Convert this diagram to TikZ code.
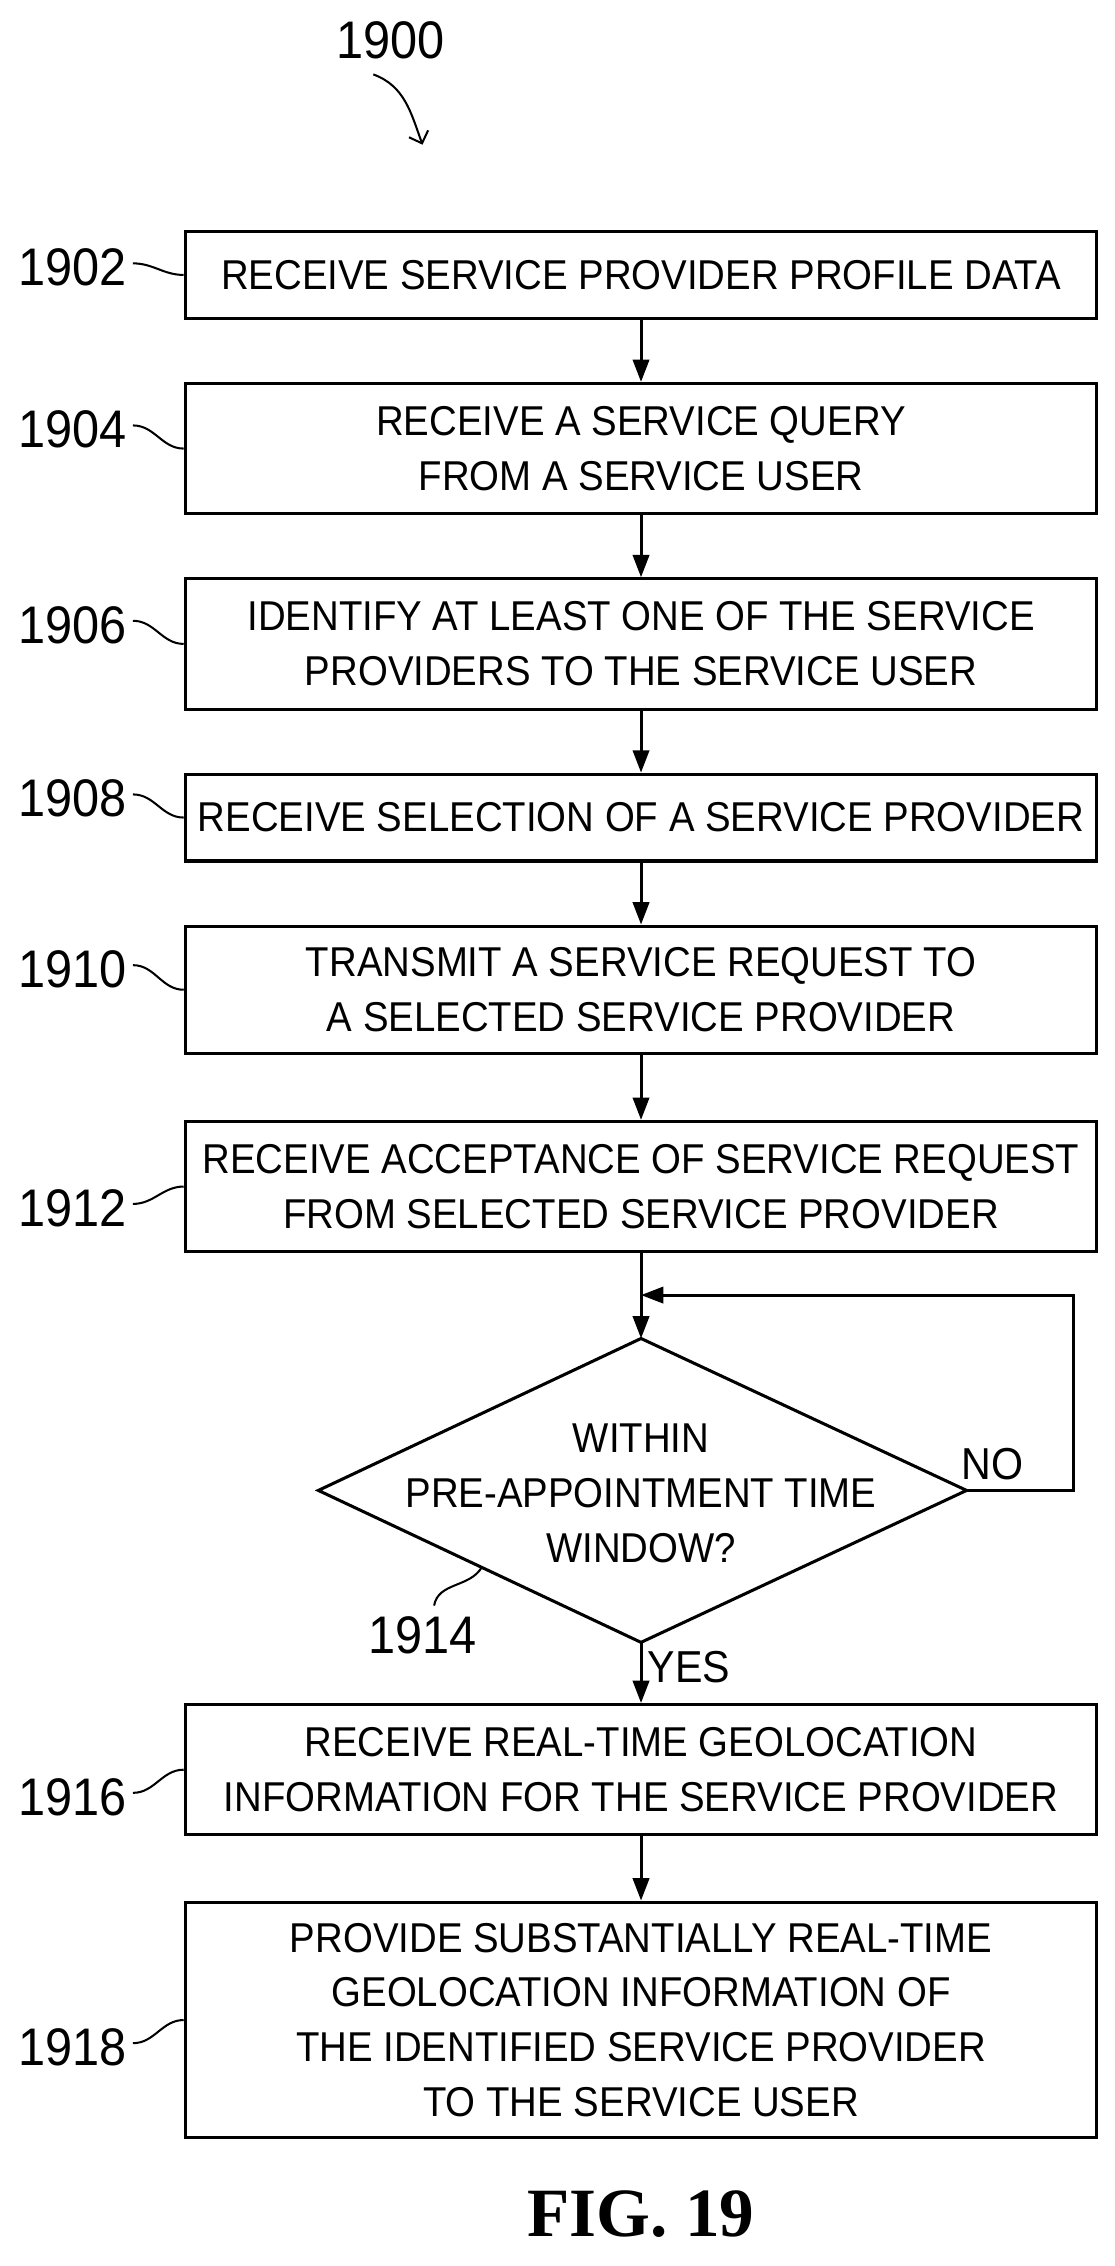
\documentclass[tikz,border=0pt]{standalone}
\usepackage{fontspec}
\setmainfont{Liberation Sans}[FakeStretch=0.92]
\newfontfamily\capfont{Liberation Serif}
\usetikzlibrary{arrows.meta,positioning}
\tikzset{
  box/.style={draw, line width=3pt, minimum width=31.5cm, align=center,
    font=\fontsize{41}{54}\selectfont},
  ref/.style={font=\fontsize{52}{56}\selectfont},
  flow/.style={-{Triangle[length=22pt,width=16pt]}, line width=3pt},
  lead/.style={line width=2pt},
}
\begin{document}
\begin{tikzpicture}[x=0.05cm, y=-0.05cm]
    \useasboundingbox (0,0) rectangle (770,1566);
    % steps
    \node(S1) at (443,190) [box, minimum height=3cm] {RECEIVE SERVICE PROVIDER PROFILE DATA};
    \node(S2) at (443,310) [box, minimum height=4.5cm] {RECEIVE A SERVICE QUERY\\FROM A SERVICE USER};
    \node(S3) at (443,445) [box, minimum height=4.5cm] {IDENTIFY AT LEAST ONE OF THE SERVICE\\PROVIDERS TO THE SERVICE USER};
    \node(S4) at (443,565) [box, minimum height=3cm] {RECEIVE SELECTION OF A SERVICE PROVIDER};
    \node(S5) at (443,684) [box, minimum height=4.4cm] {TRANSMIT A SERVICE REQUEST TO\\A SELECTED SERVICE PROVIDER};
    \node(S6) at (443,820) [box, minimum height=4.5cm] {RECEIVE ACCEPTANCE OF SERVICE REQUEST\\FROM SELECTED SERVICE PROVIDER};
    % decision
    \node(Q) at (443,1032) [align=center, font=\fontsize{41}{54}\selectfont] {WITHIN\\PRE-APPOINTMENT TIME\\WINDOW?};
    \coordinate(Qn) at (443,925);
    \coordinate(Qe) at (668,1030);
    \coordinate(Qs) at (443,1135);
    \coordinate(Qw) at (220,1030);
    \draw[line width=3pt, line join=miter] (Qn) -- (Qe) -- (Qs) -- (Qw) -- cycle;
    \node(S7) at (443,1223) [box, minimum height=4.5cm] {RECEIVE REAL-TIME GEOLOCATION\\INFORMATION FOR THE SERVICE PROVIDER};
    \node(S8) at (443,1396) [box, minimum height=8.15cm] {PROVIDE SUBSTANTIALLY REAL-TIME\\GEOLOCATION INFORMATION OF\\THE IDENTIFIED SERVICE PROVIDER\\TO THE SERVICE USER};
    % connectors
    \draw[flow] (S1) -- (S2);
    \draw[flow] (S2) -- (S3);
    \draw[flow] (S3) -- (S4);
    \draw[flow] (S4) -- (S5);
    \draw[flow] (S5) -- (S6);
    \draw[flow] (S6) -- (Qn);
    \draw[flow] (Qs) -- (S7) node[pos=0.4, right=2pt, font=\fontsize{44}{50}\selectfont] {YES};
    \draw[flow] (S7) -- (S8);
    \coordinate(L1) at (742,1030);
    \coordinate(L2) at (742,895);
    \coordinate(L3) at (443,895);
    \draw[flow] (Qe) -- (L1) -- (L2) -- (L3);
    \node(No) at (686,1012) [font=\fontsize{44}{50}\selectfont] {NO};
    % reference numerals
    \node(R0) at (270,28) [ref] {1900};
    \coordinate(R0e) at (292,100);
    \draw[lead, -{Straight Barb[length=10pt]}] (R0.south) ++(-12,8) to[out=-20,in=110] (R0e);
    \foreach \n/\s/\y in {1902/S1/185, 1904/S2/297, 1906/S3/432, 1908/S4/552,
                          1910/S5/670, 1912/S6/835, 1916/S7/1242, 1918/S8/1415} {
      \node(R\n) at (50,\y) [ref] {\n};
      \draw[lead] (R\n.east) ++(2,-3) to[out=0,in=180] (\s.west);
    }
    \node(R1914) at (292,1130) [ref] {1914};
    \coordinate(Qt) at (333,1083);
    \draw[lead] (R1914.north) ++(8,-5) to[out=80,in=240] (Qt);
    % caption
    \node(Fig) at (443,1530) [font=\capfont\bfseries\fontsize{68}{70}\selectfont] {FIG. 19};
\end{tikzpicture}
\end{document}
